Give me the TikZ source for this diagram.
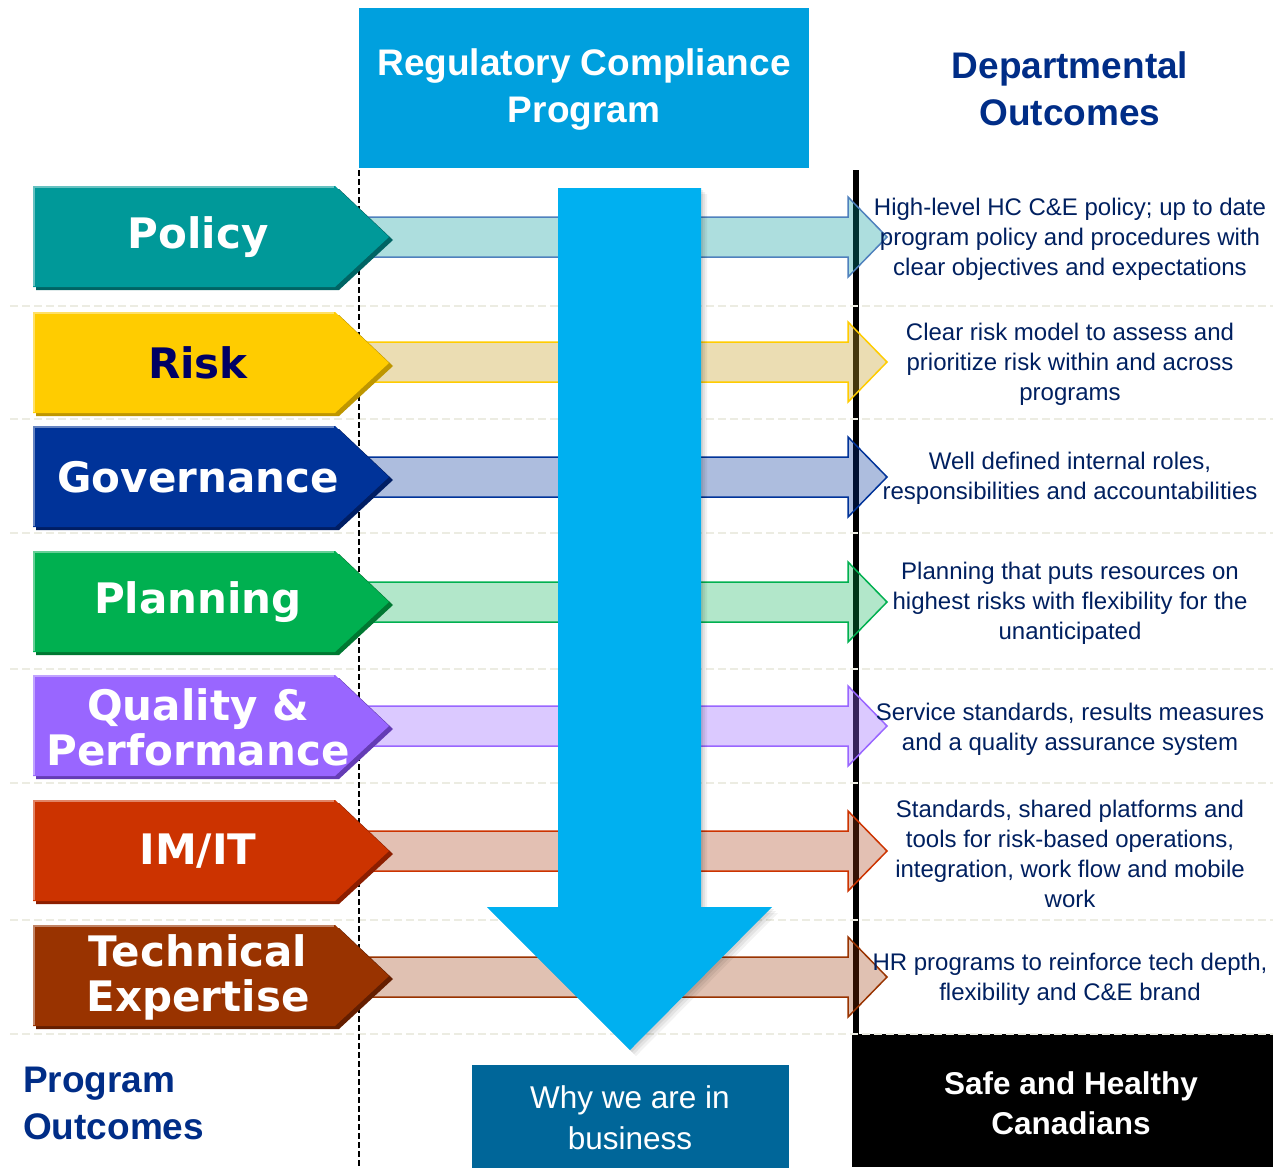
\documentclass[tikz,border=0pt]{standalone}
\usepackage{fontspec}
\setmainfont{Liberation Sans}
\newfontfamily\vfont{DejaVu Sans}
\definecolor{policyC}{RGB}{0,153,153}
\definecolor{policyD}{RGB}{0,100,100}
\definecolor{riskC}{RGB}{255,204,0}
\definecolor{riskD}{RGB}{190,150,0}
\definecolor{riskB}{RGB}{200,160,40}
\definecolor{govC}{RGB}{0,51,153}
\definecolor{govD}{RGB}{0,30,100}
\definecolor{planC}{RGB}{0,176,80}
\definecolor{planD}{RGB}{0,120,50}
\definecolor{qualC}{RGB}{153,102,255}
\definecolor{qualD}{RGB}{100,60,180}
\definecolor{imC}{RGB}{204,51,0}
\definecolor{imD}{RGB}{140,30,0}
\definecolor{imB}{RGB}{170,60,20}
\definecolor{techC}{RGB}{153,51,0}
\definecolor{techD}{RGB}{100,30,0}
\definecolor{navy}{RGB}{0,32,96}
\definecolor{deptblue}{RGB}{0,45,135}
\definecolor{topbox}{RGB}{0,160,222}
\definecolor{bigarrow}{RGB}{0,176,240}
\definecolor{whybox}{RGB}{0,102,153}
\definecolor{sepC}{RGB}{236,236,226}
\definecolor{policyBorder}{RGB}{79,129,189}
\definecolor{riskText}{RGB}{0,0,100}
\newcommand\mypent[3]{%
  \fill[#3] (36,#1-48) -- (339,#1-48) -- (393,#1+3) -- (339,#1+53) -- (36,#1+53) -- cycle;
  \fill[#2] (33,#1-51) -- (335,#1-51) -- (389,#1) -- (335,#1+50) -- (33,#1+50) -- cycle;
  \draw[white, opacity=0.4, line width=1.5pt] (34,#1+49) -- (34,#1-50) -- (334,#1-50);}
\newcommand\myband[4]{%
  \draw[draw=#3, line width=1.5pt, fill=#2, fill opacity=#4, line join=miter]
    (345,#1-20) -- (848,#1-20) -- (848,#1-40) -- (887,#1) -- (848,#1+40) -- (848,#1+20) -- (345,#1+20) -- cycle;}
\tikzset{
  lbl/.style={text=white, font=\fontsize{42}{45}\selectfont\vfont\bfseries, align=center, inner sep=0pt},
  outc/.style={text=navy, font=\fontsize{24}{30}\selectfont, align=center, inner sep=0pt},
  sep/.style={sepC, line width=2pt, dash pattern=on 8pt off 4pt},
  head/.style={font=\fontsize{37}{47}\selectfont\bfseries, align=center, inner sep=0pt}
}
\begin{document}
\begin{tikzpicture}[x=1pt,y=-1pt]
\useasboundingbox (0,0) rectangle (1273,1167);
\fill[white] (0,0) rectangle (1273,1167);
% bottom right box
\fill[black] (852,1034) rectangle (1273,1167);
% thick black line
\draw[line width=6.5pt] (856,170) -- (856,1034);
% separators
\foreach \yy in {306,419,533,669,783,920,1034}
  \draw[sep] (10,\yy) -- (1273,\yy);
% left dashed line
\draw[line width=1.8pt, dash pattern=on 6pt off 3pt] (359,170) -- (359,1167);
% bands
\myband{237}{policyC}{policyBorder}{0.32}
\myband{362}{riskB}{riskC}{0.35}
\myband{477}{govC}{govC}{0.32}
\myband{602}{planC}{planC}{0.3}
\myband{726}{qualC}{qualC}{0.35}
\myband{851}{imB}{imC}{0.32}
\myband{977}{techC}{techC}{0.3}
% pentagons
\mypent{237}{policyC}{policyD}
\mypent{363}{riskC}{riskD}
\mypent{477}{govC}{govD}
\mypent{602}{planC}{planD}
\mypent{726}{qualC}{qualD}
\mypent{851}{imC}{imD}
\mypent{976}{techC}{techD}
\node[lbl] (policy) at (198,237) {Policy};
\node[lbl, text=riskText] (risk) at (198,363) {Risk};
\node[lbl] (gov) at (198,477) {Governance};
\node[lbl] (plan) at (198,602) {Planning};
\node[lbl] (qual) at (198,727) {Quality \&\\Performance};
\node[lbl] (imit) at (198,851) {IM/IT};
\node[lbl] (tech) at (198,977) {Technical\\Expertise};
% big arrow soft shadow
\foreach \o/\a in {6/0.05,4/0.06,2/0.07}
  \fill[black, opacity=\a] (558+\o,188+\o) -- (701+\o,188+\o) -- (701+\o,907+\o) -- (772+\o,907+\o) -- (630+\o,1050+\o) -- (487+\o,907+\o) -- (558+\o,907+\o) -- cycle;
\fill[bigarrow] (558,188) -- (701,188) -- (701,907) -- (772,907) -- (630,1050) -- (487,907) -- (558,907) -- cycle;
% top box
\fill[topbox] (359,8) rectangle (809,168);
\node[head, text=white] (rcp) at (584,90) {Regulatory Compliance\\Program};
\node[head, text=deptblue] (dept) at (1070,89) {Departmental\\Outcomes};
\node[head, text=deptblue, anchor=west, align=left] (prog) at (23,1103) {Program\\Outcomes};
% why box
\fill[whybox] (472,1065) rectangle (789,1172);
\node[text=white, font=\fontsize{31.5}{41}\selectfont, align=center, inner sep=0pt] (why) at (630,1118) {Why we are in\\business};
\node[text=white, font=\fontsize{31.5}{40}\selectfont\bfseries, align=center, inner sep=0pt] (safe) at (1071,1103) {Safe and Healthy\\Canadians};
% outcomes
\node[outc] (o1) at (1070,239) {High-level HC C\&E policy; up to date\\program policy and procedures with\\clear objectives and expectations};
\node[outc] (o2) at (1070,364) {Clear risk model to assess and\\prioritize risk within and across\\programs};
\node[outc] (o3) at (1070,478) {Well defined internal roles,\\responsibilities and accountabilities};
\node[outc] (o4) at (1070,603) {Planning that puts resources on\\highest risks with flexibility for the\\unanticipated};
\node[outc] (o5) at (1070,729) {Service standards, results measures\\and a quality assurance system};
\node[outc] (o6) at (1070,854) {Standards, shared platforms and\\tools for risk-based operations,\\integration, work flow and mobile\\work};
\node[outc] (o7) at (1070,979) {HR programs to reinforce tech depth,\\flexibility and C\&E brand};
\end{tikzpicture}
\end{document}
